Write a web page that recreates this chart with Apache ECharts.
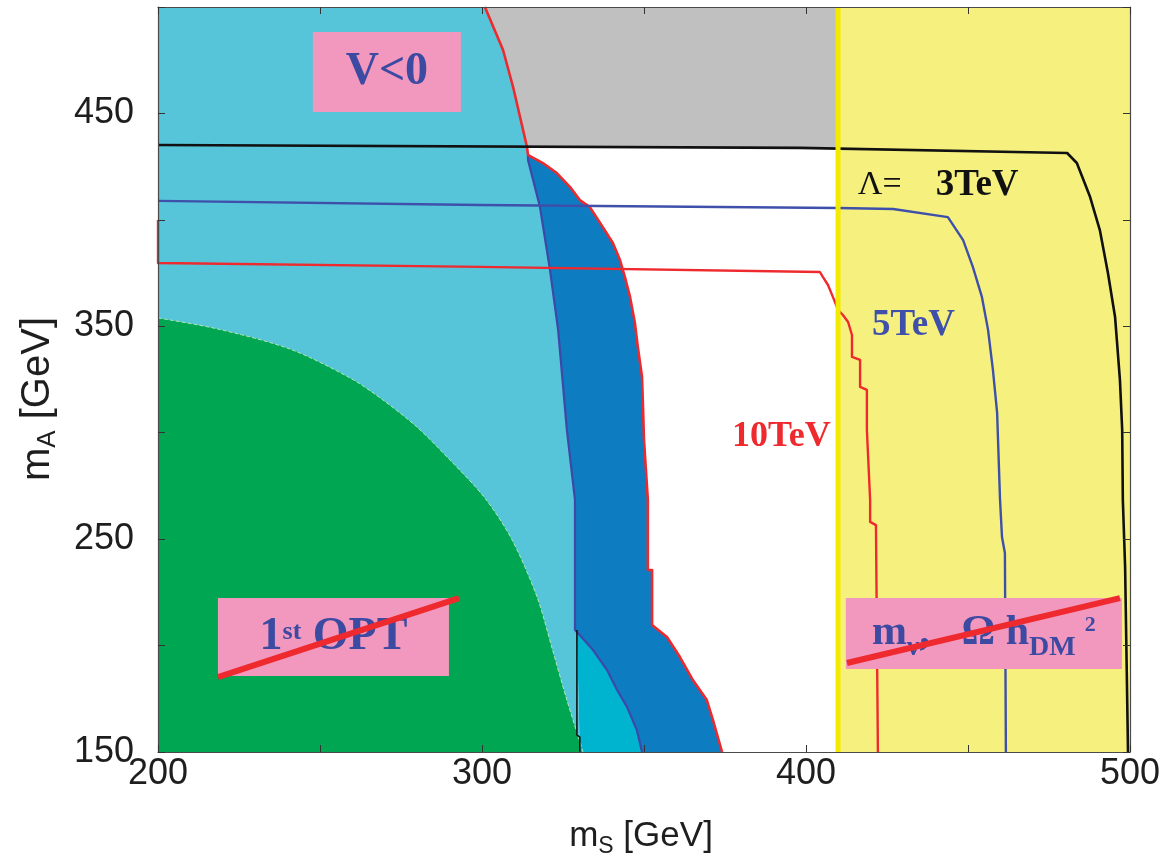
<!DOCTYPE html>
<html><head><meta charset="utf-8">
<script src="https://cdn.jsdelivr.net/npm/echarts@6/dist/echarts.min.js"></script>
<style>html,body{margin:0;padding:0;background:#fff}#c{width:1163px;height:854px}</style>
</head><body><div id="c"></div>
<script>
// ---- axis ticks ----
const xTickLabels = [200, 300, 400, 500];
const yTickLabels = [150, 250, 350, 450];

// ---- regions (polygons in [mS, mA] GeV) ----
const regionYellow = [[409.9,150],[500,150],[500,500],[409.9,500]];
const regionGray = [[300.9,500],[306.5,479.8],[309.6,462.4],[313.9,434.4],[409.9,433.8],[409.9,500]];
const regionLightCyan = [[200,500],[300.9,500],[306.5,479.8],[309.6,462.4],[313.9,434.2],[314.2,430.5],[314.2,428.1],[317.9,406.0],[321.0,376.4],[323.5,348.3],[326.2,301.3],[328.7,268.4],[328.7,207.3],[329.3,205.9],[330.2,150],[200,150]];
const regionMidCyan = [[329.3,205.9],[329.6,205.9],[334.3,197.9],[338.6,188.5],[341.7,179.1],[344.8,171.1],[347.8,160.3],[349.4,150],[330.2,150]];
// green region: area below this edge
const greenEdge = [[200,353.9],[218.2,348.8],[240.7,339.3],[259.3,325.7],[269.4,315.4],[279.9,302.7],[290.1,287.2],[300.9,269.3],[309.3,249.6],[317.0,222.8],[321.6,198.9],[326.2,174.4],[331.2,150]];

// ---- boundary curves ----
const navyBoundary = [[314.2,430.5],[314.2,428.1],[317.9,406.0],[321.0,376.4],[323.5,348.3],[326.2,301.3],[328.7,268.4],[328.7,207.3],[329.6,205.9],[334.3,197.9],[338.6,188.5],[341.7,179.1],[344.8,171.1],[347.8,160.3],[349.4,150]];
const redBoundary = [[300.9,500],[306.5,479.8],[309.6,462.4],[313.9,434.2],[314.2,430.5],[315.4,429.5],[318.8,426.7],[323.1,422.0],[327.2,415.4],[330.2,409.3],[333.3,406.0],[337.3,396.6],[340.4,389.1],[342.6,381.1],[344.1,373.2],[345.7,363.8],[347.2,351.5],[348.1,340.3],[349.4,326.2],[349.7,312.1],[350.0,296.6],[351.2,268.4],[351.2,235.5],[352.5,235.5],[352.5,209.7],[357.1,204.0],[361.1,194.6],[365.1,183.8],[369.4,174.4],[371.3,165.0],[374.1,150]];
const blackVertical = [[329.3,207.3],[329.3,158],[330.2,157],[330.2,150]];
const lambda3TeV = [[200,435.2],[398.1,433.8],[480.6,431.4],[483.6,426.7],[487.7,410.7],[490.7,395.2],[493.2,375.0],[495.4,354.4],[496.9,324.8],[497.6,301.3],[497.8,268.4],[498.5,236.9],[499.4,150]];
const lambda5TeV = [[200,408.9],[299.4,407.0],[409.9,405.6],[426.9,405.1],[443.8,401.3],[448.5,390.5],[451.5,377.9],[454.3,363.8],[456.2,348.3],[457.7,329.5],[459.0,309.3],[459.9,268.4],[460.5,251.0],[461.4,243.5],[461.7,150]];
const lambda10TeV = [[200,399.9],[200,379.7],[299.4,377.9],[404.3,375.5],[405.2,373.2],[406.8,369.4],[408.3,363.8],[408.95,361.4],[409.9,357.6],[411.4,355.3],[413.0,352.0],[414.2,345.9],[414.2,335.6],[416.7,334.2],[416.7,321.5],[418.8,320.1],[418.8,301.3],[419.8,268.4],[419.8,258.1],[421.6,256.6],[422.2,150]];
const yellowEdge = [[409.9,150],[409.9,500]];
const slashOPT = [[218.5,185.2],[292.9,222.3]];
const slashDM = [[412.65,191.8],[496.9,222.3]];

// ---- annotation boxes [x0,y0,x1,y1] ----
const boxVneg = [247.8,450.7,293.5,488.3];
const boxOPT = [218.5,185.7,289.8,222.3];
const boxDM = [412.3,189.0,497.5,222.3];

const SERIF = "'Liberation Serif','Times New Roman',serif";
const SANS = "'Liberation Sans',Arial,Helvetica,sans-serif";
const NAVY = '#3C4AA2', RED = '#EE2A2E', PINK = '#F297BE';

const darkBlueRegion = navyBoundary.concat(redBoundary.slice(4).reverse());

function poly(pts, color, z) {
  return {type:'custom', coordinateSystem:'cartesian2d', data: pts, encode:{x:0,y:1}, z, silent:true, clip:true,
    renderItem(params, api) {
      if (params.dataIndex !== 0) return null;
      return {type:'polygon', shape:{points: pts.map(p => api.coord(p))}, style:{fill: color}};
    }};
}
function line(pts, color, width, z, type) {
  return {type:'line', data: pts, showSymbol:false, symbol:'none', z, silent:true, clip:true,
    lineStyle:{color, width, type: type || 'solid', cap:'butt', join:'round'}};
}
function boxes(list, z) {
  return {type:'custom', coordinateSystem:'cartesian2d', data: list, encode:{x:[0,2], y:[1,3]}, z, silent:true,
    renderItem(params, api) {
      const p0 = api.coord([api.value(0), api.value(1)]);
      const p1 = api.coord([api.value(2), api.value(3)]);
      return {type:'rect', shape:{x:Math.min(p0[0],p1[0]), y:Math.min(p0[1],p1[1]),
        width:Math.abs(p1[0]-p0[0]), height:Math.abs(p1[1]-p0[1])}, style:{fill: PINK}};
    }};
}
function textAt(pt, formatter, rich, position, z) {
  return {type:'scatter', data:[pt], symbolSize:0, z, silent:true, itemStyle:{opacity:1},
    label:{show:true, position, distance:0, formatter, rich, opacity:1}};
}
const center = b => [(b[0]+b[2])/2, (b[1]+b[3])/2];

const chart = echarts.init(document.getElementById('c'));
const axisLine = {show:true, onZero:false, lineStyle:{color:'#4a4a4a', width:1.2}};
const axisTick = {show:true, inside:true, length:7, lineStyle:{color:'#333', width:1}};
chart.setOption({
  animation:false,
  backgroundColor:'#fff',
  grid:{left:158, right:33, top:7, bottom:102},
  xAxis:[
    {type:'value', min:200, max:500, interval:50, position:'bottom', z:10, axisLine, axisTick, splitLine:{show:false},
     axisLabel:{margin:4, fontSize:36, color:'#1e1e1e', fontFamily:SANS,
       formatter: v => xTickLabels.includes(v) ? String(v) : ''}},
    {type:'value', min:200, max:500, interval:50, position:'top', z:10, axisLine, axisTick, splitLine:{show:false}, axisLabel:{show:false}}
  ],
  yAxis:[
    {type:'value', min:150, max:500, interval:50, position:'left', z:10, axisLine, axisTick, splitLine:{show:false},
     axisLabel:{margin:24, fontSize:36, color:'#1e1e1e', fontFamily:SANS,
       formatter: v => yTickLabels.includes(v) ? String(v) : ''}},
    {type:'value', min:150, max:500, interval:50, position:'right', z:10, axisLine, axisTick, splitLine:{show:false}, axisLabel:{show:false}}
  ],
  graphic:[
    {type:'text', x:641, y:836, z:20, style:{text:'{m|m}{s|S}{m| [GeV]}', align:'center', verticalAlign:'middle',
      rich:{m:{fontSize:35, fontFamily:SANS, fill:'#1e1e1e', lineHeight:44}, s:{fontSize:23, fontFamily:SANS, fill:'#1e1e1e', lineHeight:22, verticalAlign:'bottom'}}}},
    {type:'text', x:38, y:399, rotation:Math.PI/2, z:20, style:{text:'{m|m}{s|A}{m| [GeV]}', align:'center', verticalAlign:'middle',
      rich:{m:{fontSize:40, fontFamily:SANS, fill:'#1e1e1e', lineHeight:46}, s:{fontSize:26, fontFamily:SANS, fill:'#1e1e1e', lineHeight:22, verticalAlign:'bottom'}}}}
  ],
  series:[
    poly(regionYellow, '#F6F17E', 1),
    poly(regionGray, '#C0C0C0', 1),
    poly(regionLightCyan, '#56C5DA', 2),
    {type:'line', data: greenEdge, smooth:0.3, showSymbol:false, symbol:'none', z:3, silent:true, clip:true,
     lineStyle:{color:'rgba(190,235,180,0.9)', width:1, type:'dashed'},
     areaStyle:{color:'#00A651', opacity:1, origin:'start'}},
    poly(regionMidCyan, '#00B3CF', 3),
    poly(darkBlueRegion, '#0E7CC1', 3),
    line(navyBoundary, '#3F47A8', 2.2, 5),
    line(blackVertical, '#111', 1.6, 5),
    line(redBoundary, RED, 2.6, 5),
    line(lambda3TeV, '#111', 2.6, 5),
    line(lambda5TeV, '#3E50AA', 2.4, 5),
    line(lambda10TeV, RED, 2.4, 5),
    line(yellowEdge, '#F2EA00', 5, 6),
    boxes([boxVneg, boxOPT, boxDM], 7),
    textAt(center(boxVneg), '{a|V<0}', {a:{fontSize:46, fontWeight:'bold', fontFamily:SERIF, color:NAVY}}, 'inside', 8),
    textAt(center(boxOPT), '{a|1}{s|st}{a| OPT}', {
      a:{fontSize:46, fontWeight:'bold', fontFamily:SERIF, color:NAVY, lineHeight:56},
      s:{fontSize:26, fontWeight:'bold', fontFamily:SERIF, color:NAVY, lineHeight:30, padding:[0,0,9,0]}}, 'inside', 8),
    textAt(center(boxDM), '{a|m}{b|ν}{a|,   Ω h}{b|DM}{c|2}', {
      a:{fontSize:42, fontWeight:'bold', fontFamily:SERIF, color:NAVY, lineHeight:50},
      b:{fontSize:28, fontWeight:'bold', fontFamily:SERIF, color:NAVY, lineHeight:20, padding:[28,0,0,0]},
      c:{fontSize:22, fontWeight:'bold', fontFamily:SERIF, color:NAVY, lineHeight:20, padding:[0,0,16,9]}}, 'inside', 8),
    textAt([416.0,416.4], '{l|Λ=    }{b|3TeV}', {
      l:{fontSize:34, fontFamily:SERIF, color:'#111'}, b:{fontSize:37, fontWeight:'bold', fontFamily:SERIF, color:'#111'}}, 'right', 8),
    textAt([420.4,350.6], '{b|5TeV}', {b:{fontSize:37, fontWeight:'bold', fontFamily:SERIF, color:'#3E50AA'}}, 'right', 8),
    textAt([377.2,298.0], '{b|10TeV}', {b:{fontSize:36, fontWeight:'bold', fontFamily:SERIF, color:RED}}, 'right', 8),
    line(slashOPT, RED, 6, 9),
    line(slashDM, RED, 6, 9)
  ]
});
</script></body></html>
